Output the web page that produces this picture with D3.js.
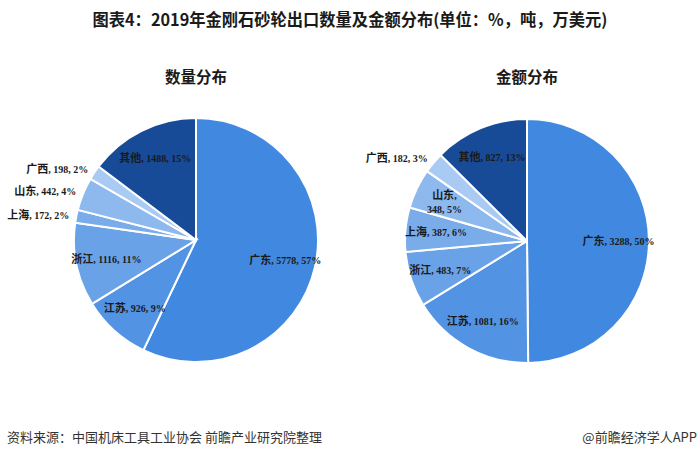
<!DOCTYPE html>
<html><head><meta charset="utf-8">
<script src="https://cdn.jsdelivr.net/npm/d3@7"></script>
<style>
html,body{margin:0;padding:0;background:#fff;}
svg{display:block;}
</style></head>
<body>
<svg id="c" width="700" height="457"></svg>
<script>
const title = "图表4：2019年金刚石砂轮出口数量及金额分布(单位：%，吨，万美元)";
const categories = ["广东","江苏","浙江","上海","山东","广西","其他"];
const quantityValues = [5778, 926, 1116, 172, 442, 198, 1488];
const amountValues = [3288, 1081, 483, 387, 348, 182, 827];
const chartTitles = ["数量分布","金额分布"];
const colors = ["#4189e0","#5393e3","#6aa2e8","#79ace9","#8db9ee","#a9cbf3","#174b97"];
const sourceText = "资料来源：中国机床工具工业协会 前瞻产业研究院整理";
const brandText = "@前瞻经济学人APP";

const svg = d3.select("#c");
const cjk = "'Noto Sans CJK SC','Noto Sans',sans-serif";
const serif = "'Liberation Serif','DejaVu Serif',serif";

svg.append("text").attr("x",350).attr("y",26).attr("text-anchor","middle")
  .attr("font-family",cjk).attr("font-weight","bold").attr("font-size",16.5)
  .attr("fill","#1a1a1a").attr("textLength",515).attr("lengthAdjust","spacingAndGlyphs")
  .text(title);

svg.append("text").attr("x",7).attr("y",442).attr("font-family",cjk)
  .attr("font-size",13).attr("fill","#333").text(sourceText);
svg.append("text").attr("x",697).attr("y",442).attr("text-anchor","end").attr("font-family",cjk)
  .attr("font-size",13).attr("fill","#333").text(brandText);

const R = 122;
const pies = [
  {cx:196, cy:240, values:quantityValues, title:chartTitles[0]},
  {cx:527, cy:241, values:amountValues, title:chartTitles[1]}
];

const pie = d3.pie().sort(null).value(d=>d.v);
const arc = d3.arc().innerRadius(0).outerRadius(R);

pies.forEach(p=>{
  const g = svg.append("g").attr("transform",`translate(${p.cx},${p.cy})`);
  svg.append("text").attr("x",p.cx).attr("y",83).attr("text-anchor","middle")
    .attr("font-family",cjk).attr("font-weight","bold").attr("font-size",15.5)
    .attr("fill","#1a1a1a").text(p.title);
  const data = categories.map((c,i)=>({c, v:p.values[i], col:colors[i]}));
  const total = d3.sum(p.values);
  const arcs = pie(data);
  g.selectAll("path").data(arcs).join("path")
    .attr("d",arc).attr("fill",d=>d.data.col)
    .attr("stroke","#fff").attr("stroke-width",2);
  arcs.forEach(d=>{
    const pct = d.data.v/total*100;
    const a = (d.startAngle+d.endAngle)/2;
    const numTxt = ", " + d.data.v + ", " + Math.round(pct) + "%";
    let r, anchor, two=false;
    if (pct < 5) { r = R*1.06; anchor = "end"; }
    else { r = R*0.75; anchor = "middle"; if (pct < 5.6) two = true; }
    const x = r*Math.sin(a), y = -r*Math.cos(a);
    const t = g.append("text").attr("text-anchor",anchor).attr("fill","#1a1a1a");
    if (two) {
      t.append("tspan").attr("x",x).attr("y",y-3).attr("font-family",cjk)
        .attr("font-weight","bold").attr("font-size",11).text(d.data.c)
        .append("tspan").attr("font-family",serif).attr("font-size",10).text(",");
      t.append("tspan").attr("x",x).attr("y",y+11).attr("font-family",serif)
        .attr("font-weight","bold").attr("font-size",10).text(numTxt.slice(2));
    } else {
      t.attr("x",x).attr("y",y+4);
      t.append("tspan").attr("font-family",cjk).attr("font-weight","bold")
        .attr("font-size",11).text(d.data.c);
      t.append("tspan").attr("font-family",serif).attr("font-weight","bold")
        .attr("font-size",10).text(numTxt);
    }
  });
});
</script>
</body></html>
